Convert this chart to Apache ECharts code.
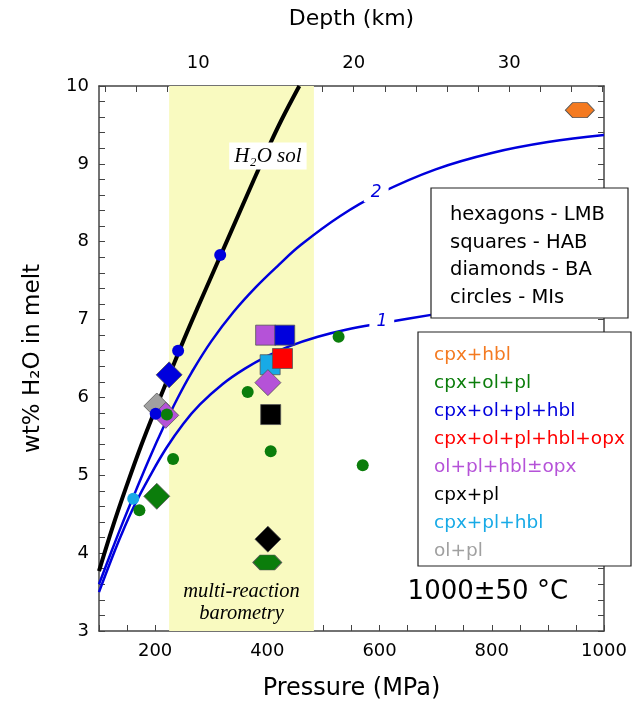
<!DOCTYPE html>
<html>
<head>
<meta charset="utf-8">
<script src="https://cdn.jsdelivr.net/npm/echarts@6/dist/echarts.min.js"></script>
<style>
html, body { margin: 0; padding: 0; background: #fff; }
#chart { width: 643px; height: 706px; }
</style>
</head>
<body>
<div id="chart"></div>
<script>
// mineral assemblages (legend) and their colours
var categories = ['cpx+hbl', 'cpx+ol+pl', 'cpx+ol+pl+hbl', 'cpx+ol+pl+hbl+opx',
                  'ol+pl+hbl\u00b1opx', 'cpx+pl', 'cpx+pl+hbl', 'ol+pl'];
var catColors = ['#f47a20', '#0b7d0b', '#0000dd', '#ff0000',
                 '#b552d8', '#000000', '#18aae6', '#a0a0a0'];
var shapeNames = ['hexagons - LMB', 'squares - HAB', 'diamonds - BA', 'circles - MIs'];

// hexagons (LMB)
var hexP = [957, 400];
var hexW = [9.69, 3.88];
var hexCat = [0, 1];
// squares (HAB)
var sqP = [405, 397, 431, 427, 406];
var sqW = [6.42, 6.80, 6.80, 6.50, 5.78];
var sqCat = [6, 4, 2, 3, 5];
// diamonds (BA)
var diaP = [225, 203, 219, 203, 401, 401];
var diaW = [6.29, 5.89, 5.77, 4.73, 6.19, 4.18];
var diaCat = [2, 7, 4, 1, 4, 5];
// circles (melt inclusions)
var cirP = [241, 316, 201, 221, 232, 172, 365, 406, 527, 570, 161];
var cirW = [6.60, 7.83, 5.79, 5.78, 5.21, 4.55, 6.07, 5.31, 6.78, 5.13, 4.70];
var cirCat = [2, 2, 2, 1, 1, 1, 1, 1, 1, 1, 6];

// H2O solubility curve
var solP = [100, 125, 150, 175, 200, 225, 250, 275, 300, 325, 350, 375, 400, 425, 457];
var solW = [3.77, 4.35, 4.88, 5.38, 5.84, 6.28, 6.72, 7.14, 7.55, 7.96, 8.37, 8.78, 9.18, 9.56, 10.0];
// isopleth 2
var c2P = [100, 120, 140, 165, 190, 215, 240, 265, 300, 340, 380, 420, 460, 530, 600, 700, 800, 900, 1000];
var c2W = [3.60, 3.98, 4.35, 4.79, 5.22, 5.62, 5.99, 6.32, 6.72, 7.10, 7.42, 7.70, 7.96, 8.33, 8.62, 8.93, 9.14, 9.28, 9.37];
// isopleth 1
var c1P = [100, 120, 140, 165, 190, 220, 250, 280, 320, 360, 400, 440, 490, 540, 600, 700, 800, 900, 1000];
var c1W = [3.50, 3.88, 4.24, 4.64, 4.98, 5.35, 5.66, 5.91, 6.17, 6.37, 6.53, 6.66, 6.78, 6.87, 6.95, 7.07, 7.18, 7.28, 7.37];

// multi-reaction barometry range (MPa)
var bandRange = [225, 483];
// MPa per km of depth, top axis ticks
var mpaPerKm = 27.7;
var depthTicks = [4, 6, 8, 10, 12, 14, 16, 18, 20, 22, 24, 26, 28, 30, 32, 34, 36];
var depthLabels = [10, 20, 30];

var SANS = '"DejaVu Sans", sans-serif';
var SERIF = '"Liberation Serif", "DejaVu Serif", serif';
var BLUE = '#0000dd';

function zip(xs, ys) {
    return xs.map(function (x, i) { return [x, ys[i]]; });
}
function pts(xs, ys, cats) {
    return xs.map(function (x, i) {
        return { value: [x, ys[i]], itemStyle: { color: catColors[cats[i]] } };
    });
}
function textMark(coord, text, style) {
    var lbl = Object.assign({ show: true, position: 'inside', formatter: text }, style);
    return {
        symbol: 'circle', symbolSize: 1, silent: true,
        itemStyle: { color: 'rgba(0,0,0,0)' },
        label: lbl,
        data: [{ coord: coord }]
    };
}

var chart = echarts.init(document.getElementById('chart'));

var hexPath = 'path://M0,6L3.5,0L10.5,0L14,6L10.5,12L3.5,12Z';

var axisLineStyle = { color: '#444', width: 1.5 };

var option = {
    animation: false,
    grid: { left: 99, right: 39, top: 86, bottom: 74 },
    xAxis: [{
        type: 'value', position: 'bottom', min: 100, max: 1000, interval: 50,
        name: 'Pressure (MPa)', nameLocation: 'middle', nameGap: 46,
        nameTextStyle: { fontSize: 24, color: '#000', fontFamily: SANS },
        axisLine: { lineStyle: axisLineStyle },
        axisTick: { inside: true, length: 6, lineStyle: { color: '#444' } },
        axisLabel: {
            fontSize: 18, color: '#000', fontFamily: SANS, margin: 11,
            formatter: function (v) { return v % 200 === 0 ? String(v) : ''; }
        },
        splitLine: { show: false }
    }, {
        type: 'value', position: 'top', min: 100 / mpaPerKm, max: 1000 / mpaPerKm,
        name: 'Depth (km)', nameLocation: 'middle', nameGap: 56,
        nameTextStyle: { fontSize: 22, color: '#000', fontFamily: SANS },
        axisLine: { lineStyle: axisLineStyle },
        axisTick: { inside: true, length: 6, lineStyle: { color: '#444' }, customValues: depthTicks },
        axisLabel: { fontSize: 18, color: '#000', fontFamily: SANS, margin: 14, customValues: depthLabels },
        splitLine: { show: false }
    }],
    yAxis: [{
        type: 'value', position: 'left', min: 3, max: 10, interval: 0.2,
        name: 'wt% H\u2082O in melt', nameLocation: 'middle', nameGap: 54,
        nameTextStyle: { fontSize: 23, color: '#000', fontFamily: SANS },
        axisLine: { lineStyle: axisLineStyle },
        axisTick: { inside: true, length: 6, lineStyle: { color: '#444' } },
        axisLabel: {
            fontSize: 18, color: '#000', fontFamily: SANS, margin: 10,
            formatter: function (v) {
                return Math.abs(v - Math.round(v)) < 1e-6 ? String(Math.round(v)) : '';
            }
        },
        splitLine: { show: false }
    }, {
        type: 'value', position: 'right', min: 3, max: 10, interval: 0.2,
        axisLine: { show: true, lineStyle: axisLineStyle },
        axisTick: { show: true, inside: true, length: 6, lineStyle: { color: '#444' } },
        axisLabel: { show: false },
        splitLine: { show: false }
    }],
    series: [
        {
            type: 'scatter', data: [], z: 0, silent: true,
            markArea: {
                silent: true,
                itemStyle: { color: '#f9fac0' },
                data: [[{ xAxis: bandRange[0] }, { xAxis: bandRange[1] }]]
            }
        },
        {
            type: 'line', data: zip(solP, solW), smooth: 0.4, showSymbol: false, z: 3,
            lineStyle: { color: '#000', width: 4 }, silent: true,
            markPoint: textMark([401, 9.10], 'H\u2082O sol', {
                fontSize: 21, fontStyle: 'italic', fontFamily: SERIF, color: '#000',
                backgroundColor: '#fff', padding: [3, 5]
            })
        },
        {
            type: 'line', data: zip(c2P, c2W), smooth: 0.4, showSymbol: false, z: 3,
            lineStyle: { color: BLUE, width: 2.5 }, silent: true,
            markPoint: textMark([594, 8.63], '2', {
                fontSize: 17, fontStyle: 'italic', fontFamily: SANS, color: BLUE,
                backgroundColor: '#fff', padding: [1, 7]
            })
        },
        {
            type: 'line', data: zip(c1P, c1W), smooth: 0.4, showSymbol: false, z: 3,
            lineStyle: { color: BLUE, width: 2.5 }, silent: true,
            markPoint: textMark([604, 6.98], '1', {
                fontSize: 17, fontStyle: 'italic', fontFamily: SANS, color: BLUE,
                backgroundColor: '#fff', padding: [1, 7]
            })
        },
        {
            type: 'scatter', data: pts(hexP, hexW, hexCat), symbol: hexPath, symbolSize: [29, 15], z: 4,
            itemStyle: { borderColor: '#555', borderWidth: 0.8, opacity: 1 }
        },
        {
            type: 'scatter', data: pts(sqP, sqW, sqCat), symbol: 'rect', symbolSize: 20, z: 4,
            itemStyle: { borderColor: '#555', borderWidth: 0.8, opacity: 1 }
        },
        {
            type: 'scatter', data: pts(diaP, diaW, diaCat), symbol: 'diamond', symbolSize: 26, z: 5,
            itemStyle: { borderColor: '#555', borderWidth: 0.8, opacity: 1 }
        },
        {
            type: 'scatter', data: pts(cirP, cirW, cirCat), symbol: 'circle', symbolSize: 12, z: 6,
            itemStyle: { opacity: 1 }
        },
        {
            type: 'scatter', data: [], z: 6, silent: true,
            markPoint: {
                symbol: 'circle', symbolSize: 1, silent: true,
                itemStyle: { color: 'rgba(0,0,0,0)' },
                data: [
                    {
                        coord: [354, 3.36],
                        label: {
                            show: true, position: 'inside', formatter: 'multi-reaction\nbarometry',
                            fontSize: 20.5, lineHeight: 22, fontStyle: 'italic', fontFamily: SERIF, color: '#000'
                        }
                    },
                    {
                        coord: [793, 3.50],
                        label: {
                            show: true, position: 'inside', formatter: '1000\u00b150 \u00b0C',
                            fontSize: 26, fontFamily: SANS, color: '#000'
                        }
                    }
                ]
            }
        }
    ],
    graphic: [
        { type: 'rect', z: 100, shape: { x: 431, y: 188, width: 197, height: 130 },
          style: { fill: '#fff', stroke: '#222', lineWidth: 1.2 } },
        { type: 'rect', z: 100, shape: { x: 418, y: 332, width: 213, height: 234 },
          style: { fill: '#fff', stroke: '#222', lineWidth: 1.2 } }
    ]
};

shapeNames.forEach(function (t, i) {
    option.graphic.push({
        type: 'text', z: 101,
        style: { x: 450, y: 215 + i * 27.6, text: t, fill: '#000', fontSize: 19.5, fontFamily: SANS, verticalAlign: 'middle' }
    });
});
categories.forEach(function (t, i) {
    option.graphic.push({
        type: 'text', z: 101,
        style: { x: 434, y: 355 + i * 28, text: t, fill: catColors[i], fontSize: 18.5, fontFamily: SANS, verticalAlign: 'middle' }
    });
});

chart.setOption(option);
</script>
</body>
</html>
